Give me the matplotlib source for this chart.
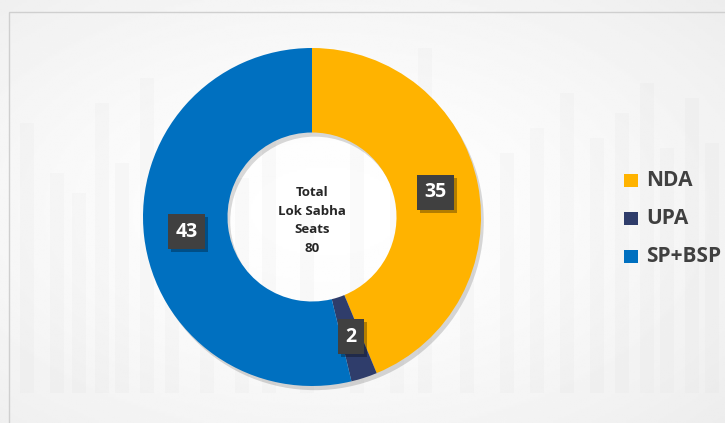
"""
Uttar Pradesh Lok Sabha seat split donut (NDA / UPA / SP+BSP).
"""
import numpy as np
import matplotlib.pyplot as plt
import matplotlib.patheffects as pe
from matplotlib.patches import Rectangle

W, H = 725, 423

# data
parties = ["NDA", "UPA", "SP+BSP"]
seats = [35, 2, 43]
colors = ["#FFB300", "#2F3D6B", "#0070C0"]
center_lines = ["Total", "Lok Sabha", "Seats", "80"]

plt.rcParams["font.family"] = ["Open Sans", "DejaVu Sans"]

fig = plt.figure(figsize=(W / 100, H / 100), dpi=100)

# background: soft grey vignette + faint decorative columns
bg = fig.add_axes([0, 0, 1, 1])
yy, xx = np.mgrid[0:1:200j, 0:1:340j]
d = np.sqrt(((xx - 0.45) / 0.8) ** 2 + ((yy - 0.5) / 0.8) ** 2)
shade = 1.0 - 0.08 * np.clip(d, 0, 1) ** 1.5
bg.imshow(shade, cmap="gray", vmin=0, vmax=1, extent=[0, W, 0, H],
          aspect="auto", origin="lower")
deco_x = [20, 50, 72, 95, 115, 140, 165, 200, 235, 262, 300, 350, 390, 418, 460,
          500, 530, 560, 590, 615, 640, 660, 685, 705]
deco_top = [300, 250, 230, 320, 260, 345, 270, 305, 245, 285, 210, 330, 300, 375,
            250, 270, 295, 330, 285, 310, 340, 275, 325, 280]
for xd, td in zip(deco_x, deco_top):
    bg.add_patch(Rectangle((xd, 30), 14, td - 30, fc="#DADADA", ec="none", alpha=0.12))
bg.add_patch(Rectangle((9, -1), W, H - 12 + 1, fill=False, edgecolor="#CFCFCF", lw=1.0))
bg.set_xlim(0, W); bg.set_ylim(0, H); bg.axis("off")

# donut: centre (312, 217) px, radius 169 px
cx, cy, r = 312, 217, 169
ax = fig.add_axes([(cx - r) / W, (H - cy - r) / H, 2 * r / W, 2 * r / H])

# soft drop shadow under the whole ring
shadow, _ = ax.pie([sum(seats)], colors=["#BDBDBD"], radius=1.0,
                   wedgeprops=dict(width=0.5, edgecolor="none"))
for s in shadow:
    s.set_path_effects([pe.SimplePatchShadow(offset=(2, -3), alpha=0.15, shadow_rgbFace="k")])

wedges, _ = ax.pie(seats, colors=colors, startangle=90, counterclock=False,
                   radius=1.0, wedgeprops=dict(width=0.5, edgecolor="none"))
ax.set_xlim(-1, 1); ax.set_ylim(-1, 1); ax.axis("off")

# value tags in dark boxes at ring middle
total = sum(seats)
start = 90.0
for v in seats:
    span = 360.0 * v / total
    mid = np.deg2rad(start - span / 2)
    start -= span
    t = ax.text(0.745 * np.cos(mid), 0.745 * np.sin(mid), str(v), ha="center", va="center",
                color="white", fontsize=14, fontweight="bold", zorder=5,
                bbox=dict(boxstyle="square,pad=0.38", fc="#404040", ec="none"))
    t.get_bbox_patch().set_path_effects([
        pe.SimplePatchShadow(offset=(2, -2), alpha=0.3, shadow_rgbFace="k"), pe.Normal()])

ax.text(0, -0.02, "\n".join(center_lines), ha="center", va="center", fontsize=9.5,
        fontweight="bold", color="#262626", linespacing=1.55)

# legend
for i, (name, c) in enumerate(zip(parties, colors)):
    ypx = 181 + i * 37.5
    fig.patches.append(Rectangle((624 / W, (H - ypx - 6.5) / H), 14 / W, 13 / H,
                                 facecolor=c, edgecolor="none",
                                 transform=fig.transFigure, figure=fig))
    fig.text(646 / W, (H - ypx) / H, name, ha="left", va="center",
             fontsize=15, fontweight="bold", color="#404040")

fig.savefig("out.png", dpi=100)
